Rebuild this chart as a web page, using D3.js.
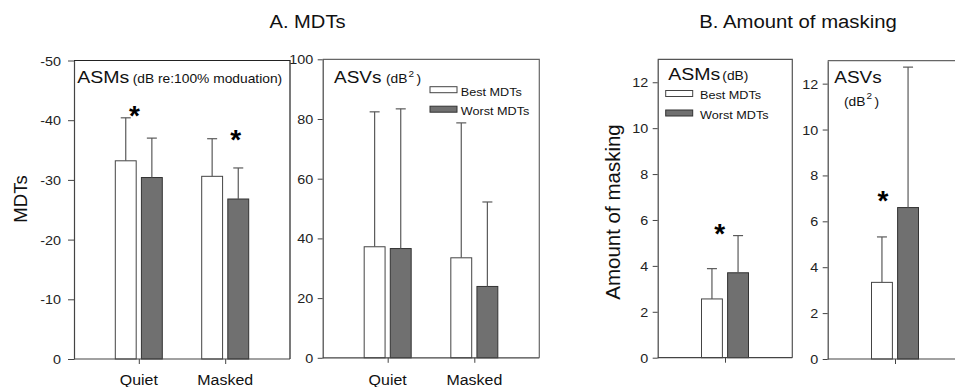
<!DOCTYPE html>
<html>
<head>
<meta charset="utf-8">
<script src="https://cdn.jsdelivr.net/npm/d3@7"></script>
<style>
  html, body { margin: 0; padding: 0; background: #fff; }
  svg { display: block; }
</style>
</head>
<body>
<svg id="chart" width="955" height="387"></svg>
<script>
// ---- data -------------------------------------------------------------
const categories = ["Quiet", "Masked"];
const seriesNames = ["Best MDTs", "Worst MDTs"];

// A. MDTs, ASMs (dB re: 100% modulation): group means and SDs
const asmMdtBest = [-33.2, -30.6];
const asmMdtBestSD = [7.2, 6.3];
const asmMdtWorst = [-30.4, -26.8];
const asmMdtWorstSD = [6.6, 5.2];

// A. MDTs, ASVs (dB^2)
const asvMdtBest = [37.2, 33.5];
const asvMdtBestSD = [45.2, 45.2];
const asvMdtWorst = [36.6, 23.9];
const asvMdtWorstSD = [46.8, 28.3];

// B. Amount of masking (single group)
const maskCategories = ["masking"];
const asmMaskBest = [2.56];
const asmMaskBestSD = [1.32];
const asmMaskWorst = [3.70];
const asmMaskWorstSD = [1.62];
const asvMaskBest = [3.34];
const asvMaskBestSD = [1.98];
const asvMaskWorst = [6.60];
const asvMaskWorstSD = [6.12];

// axis ticks
const asmMdtTicks = [0, -10, -20, -30, -40, -50];
const asvMdtTicks = [0, 20, 40, 60, 80, 100];
const maskTicks = [0, 2, 4, 6, 8, 10, 12];

// significance markers: category and value level
const asmMdtStarCats = ["Quiet", "Masked"];
const asmMdtStarValues = [-42.0, -37.9];
const asmMaskStarValues = [5.7];
const asvMaskStarValues = [7.2];

// ---- style ------------------------------------------------------------
const FONT = "'Liberation Sans', Arial, Helvetica, sans-serif";
const SX = 1.15;              // text is drawn slightly wide
const WHITE = "#ffffff";
const GRAY = "#707070";
const AXIS = "#444";
const ERR = "#5a5a5a";

const svg = d3.select("#chart");

function addText(parent, o) {
  const tr = `translate(${o.x},${o.y})` + (o.rotate ? ` rotate(${o.rotate})` : "") +
             ((o.sx || 1) !== 1 ? ` scale(${o.sx},1)` : "");
  const t = parent.append("text")
    .attr("transform", tr)
    .attr("font-family", FONT)
    .attr("font-size", o.size)
    .attr("font-weight", o.weight || "normal")
    .attr("fill", o.fill || "#111")
    .attr("text-anchor", o.anchor || "start");
  if (o.text !== undefined) t.text(o.text);
  return t;
}

// unit label with a superscript 2: "(dB²)"
function addDbSquared(parent, x, y, size) {
  const t = addText(parent, { x, y, size, sx: SX });
  t.append("tspan").text("(dB");
  t.append("tspan").attr("dy", -size * 0.55).attr("font-size", size * 0.72).attr("dx", 1).text("2");
  t.append("tspan").attr("dy", size * 0.55).attr("dx", 2).text(")");
  return t;
}

function drawPanel(p) {
  const g = svg.append("g");
  const y = d3.scaleLinear().domain(p.domain).range([p.bottom, p.top]);
  const x = d3.scalePoint().domain(p.cats).range([p.left, p.right]).padding(0.75);
  const inner = d3.scaleBand().domain(seriesNames).range([-23.5, 23.5]).paddingInner(0.2);

  // frame (top and right)
  g.append("path")
    .attr("d", `M${p.left},${p.top}H${p.right}V${p.bottom}`)
    .attr("fill", "none").attr("stroke", p.frame).attr("stroke-width", 1.2);

  // bars + error bars
  const series = [
    { name: seriesNames[0], vals: p.best, sd: p.bestSD, fill: WHITE, stroke: "#444" },
    { name: seriesNames[1], vals: p.worst, sd: p.worstSD, fill: GRAY, stroke: "#333" }
  ];
  series.forEach(s => {
    p.cats.forEach((c, i) => {
      const v = s.vals[i];
      const bx = x(c) + inner(s.name);
      const bw = inner.bandwidth();
      g.append("rect")
        .attr("x", bx).attr("width", bw)
        .attr("y", Math.min(y(0), y(v)))
        .attr("height", Math.abs(y(v) - y(0)))
        .attr("fill", s.fill).attr("stroke", s.stroke).attr("stroke-width", 1);
      const end = v + Math.sign(v) * s.sd[i];
      const cx = bx + bw / 2;
      g.append("line").attr("x1", cx).attr("x2", cx).attr("y1", y(v)).attr("y2", y(end))
        .attr("stroke", ERR).attr("stroke-width", 1.2);
      g.append("line").attr("x1", cx - 5).attr("x2", cx + 5).attr("y1", y(end)).attr("y2", y(end))
        .attr("stroke", ERR).attr("stroke-width", 1.2);
    });
  });

  // left axis (plain hyphen for negative labels)
  const ya = g.append("g").attr("transform", `translate(${p.left},0)`)
    .call(d3.axisLeft(y).tickValues(p.ticks).tickSize(p.tickLen).tickSizeOuter(0).tickFormat(d => String(d)));
  ya.select(".domain").attr("stroke", AXIS).attr("stroke-width", 1.2);
  ya.selectAll(".tick line").attr("stroke", AXIS);
  ya.selectAll(".tick text")
    .attr("x", null).attr("dy", "0.36em")
    .attr("transform", `translate(${-p.labelGap},0) scale(${SX},1)`)
    .attr("font-family", FONT).attr("font-size", 12.5).attr("fill", "#222");

  // bottom axis
  const xa = g.append("g").attr("transform", `translate(0,${p.bottom})`)
    .call(d3.axisBottom(x).tickSize(5).tickSizeOuter(0).tickFormat(""));
  xa.select(".domain").attr("stroke", AXIS).attr("stroke-width", 1.2)
    .attr("d", `M${p.left},0H${p.right}`);
  xa.selectAll(".tick line").attr("stroke", AXIS);

  if (p.showCats) {
    p.cats.forEach(c => addText(g, { x: x(c), y: 385, text: c, size: 15.5, anchor: "middle", sx: 1.03 }));
  }

  // significance stars
  (p.stars || []).forEach(st => {
    addText(g, { x: x(st.cat) + st.dx, y: y(st.value) + 16.4, text: "*", size: 28,
                 weight: "bold", anchor: "middle", fill: "#000" });
  });

  return { g, x, y };
}

// ---- panels -------------------------------------------------------------
drawPanel({
  left: 74, right: 290, top: 60.5, bottom: 359, domain: [0, -50], ticks: asmMdtTicks,
  cats: categories, best: asmMdtBest, bestSD: asmMdtBestSD, worst: asmMdtWorst, worstSD: asmMdtWorstSD,
  frame: "#222", tickLen: 6, labelGap: 13, showCats: true,
  stars: [
    { cat: asmMdtStarCats[0], value: asmMdtStarValues[0], dx: -4.3 },
    { cat: asmMdtStarCats[1], value: asmMdtStarValues[1], dx: 10.4 }
  ]
});

drawPanel({
  left: 322.7, right: 539.3, top: 59.3, bottom: 357.8, domain: [0, 100], ticks: asvMdtTicks,
  cats: categories, best: asvMdtBest, bestSD: asvMdtBestSD, worst: asvMdtWorst, worstSD: asvMdtWorstSD,
  frame: "#666", tickLen: 5, labelGap: 9.5, showCats: true
});

drawPanel({
  left: 657.7, right: 792.3, top: 59.3, bottom: 357.7, domain: [0, 13], ticks: maskTicks,
  cats: maskCategories, best: asmMaskBest, bestSD: asmMaskBestSD, worst: asmMaskWorst, worstSD: asmMaskWorstSD,
  frame: "#555", tickLen: 5, labelGap: 9.5, showCats: false,
  stars: [{ cat: maskCategories[0], value: asmMaskStarValues[0], dx: -5.4 }]
});

drawPanel({
  left: 827.7, right: 962.3, top: 60.7, bottom: 359, domain: [0, 13], ticks: maskTicks,
  cats: maskCategories, best: asvMaskBest, bestSD: asvMaskBestSD, worst: asvMaskWorst, worstSD: asvMaskWorstSD,
  frame: "#666", tickLen: 5, labelGap: 9.5, showCats: false,
  stars: [{ cat: maskCategories[0], value: asvMaskStarValues[0], dx: -12 }]
});

// ---- titles and labels -------------------------------------------------
addText(svg, { x: 307.5, y: 28, text: "A. MDTs", size: 19, anchor: "middle", sx: 1.06 });
addText(svg, { x: 798, y: 28, text: "B. Amount of masking", size: 19, anchor: "middle", sx: 1.07 });

addText(svg, { x: 27, y: 199, text: "MDTs", size: 18.5, anchor: "middle", rotate: -90 });
addText(svg, { x: 619.5, y: 212, text: "Amount of masking", size: 20.5, anchor: "middle", rotate: -90 });

// panel headings
addText(svg, { x: 77.3, y: 82.7, text: "ASMs", size: 17, sx: SX });
addText(svg, { x: 132.7, y: 82.7, text: "(dB re:100% moduation)", size: 12, sx: SX });

addText(svg, { x: 334, y: 83.3, text: "ASVs", size: 16.5, sx: SX });
addDbSquared(svg, 386, 83.3, 12);

addText(svg, { x: 668.3, y: 80, text: "ASMs", size: 17, sx: SX });
addText(svg, { x: 722.3, y: 80, text: "(dB)", size: 12, sx: SX });

addText(svg, { x: 834.3, y: 83.3, text: "ASVs", size: 16.5, sx: SX });
addDbSquared(svg, 844, 106, 12);

// legends
function legend(x, yTop, textX) {
  const g = svg.append("g");
  const fills = [WHITE, GRAY];
  const strokes = ["#444", "#333"];
  seriesNames.forEach((n, i) => {
    const sy = yTop + i * 19.5;
    g.append("rect").attr("x", x).attr("y", sy).attr("width", 27).attr("height", 6)
      .attr("fill", fills[i]).attr("stroke", strokes[i]).attr("stroke-width", 1);
    addText(g, { x: textX, y: sy + 8.8, text: n, size: 11, sx: SX });
  });
}
legend(430, 86.7, 460.7);
legend(665.7, 90.5, 700);
</script>
</body>
</html>
